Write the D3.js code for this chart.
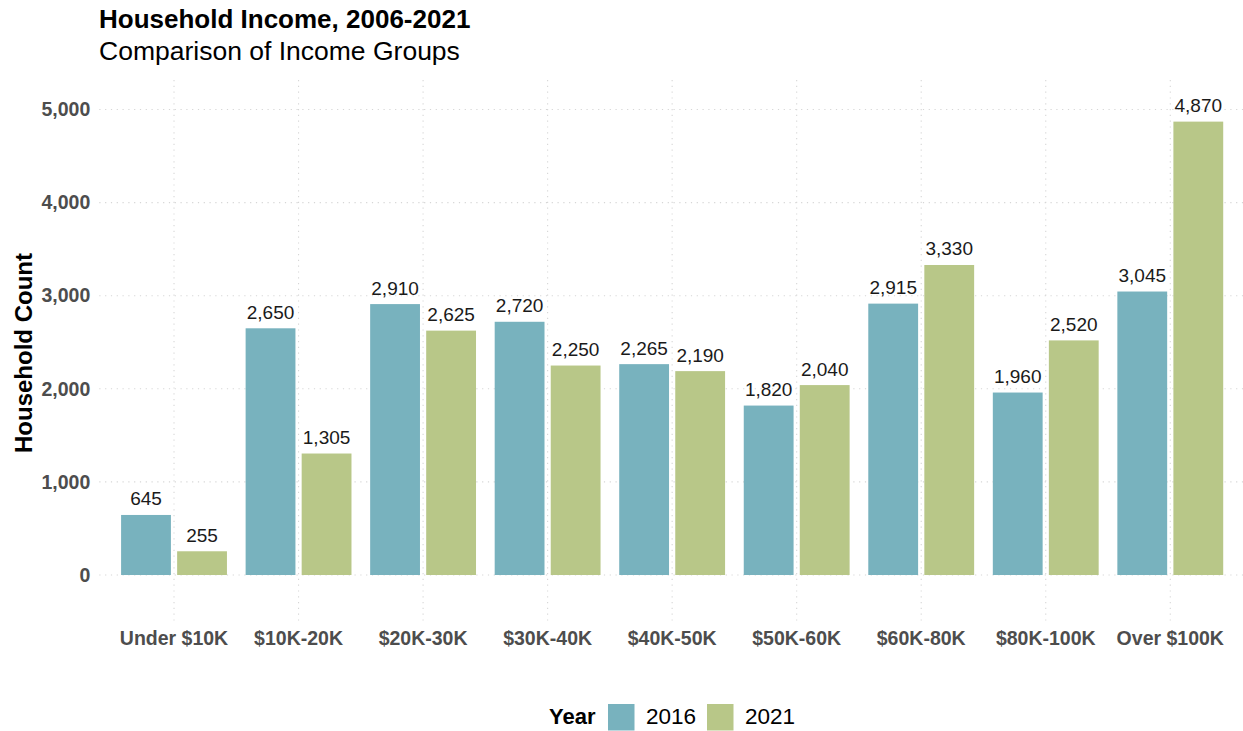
<!DOCTYPE html>
<html>
<head>
<meta charset="utf-8">
<script src="https://cdn.jsdelivr.net/npm/d3@7"></script>
<style>
  html, body { margin: 0; padding: 0; background: #ffffff; }
  svg { display: block; font-family: "Liberation Sans", Arial, Helvetica, sans-serif; }
</style>
</head>
<body>
<svg id="chart" width="1243" height="731"></svg>
<script>
// Household counts by income group for two census years
const categories = ["Under $10K", "$10K-20K", "$20K-30K", "$30K-40K", "$40K-50K",
                    "$50K-60K", "$60K-80K", "$80K-100K", "Over $100K"];
const years = ["2016", "2021"];
const values2016 = [645, 2650, 2910, 2720, 2265, 1820, 2915, 1960, 3045];
const values2021 = [255, 1305, 2625, 2250, 2190, 2040, 3330, 2520, 4870];
const yTicks = [0, 1000, 2000, 3000, 4000, 5000];
const colors = { "2016": "#78b2be", "2021": "#b8c788" };

const rows = categories.map((c, i) => ({
  category: c,
  values: [{ year: "2016", value: values2016[i] }, { year: "2021", value: values2021[i] }]
}));

const svg = d3.select("#chart");
const panel = { left: 99.3, right: 1245, top: 80, bottom: 621 };

const x = d3.scaleBand()
  .domain(categories)
  .range([panel.left, panel.right])
  .paddingInner(0)
  .paddingOuter(0.1);

const step = x.step();
const xInner = d3.scaleBand()
  .domain(years)
  .range([0.05 * step, 0.95 * step])
  .paddingInner(0.111)
  .paddingOuter(0.0555);

const y = d3.scaleLinear()
  .domain([-494, 5317])
  .range([panel.bottom, panel.top]);

const fmt = d3.format(",");

// Grid lines (dotted)
const grid = svg.append("g");
grid.selectAll("line.h").data(yTicks).join("line")
  .attr("x1", panel.left).attr("x2", 1243)
  .attr("y1", d => y(d)).attr("y2", d => y(d))
  .attr("stroke", "#d6d6d6").attr("stroke-width", 1.1)
  .attr("stroke-dasharray", "1.2,4.6");
grid.selectAll("line.v").data(categories).join("line")
  .attr("x1", d => x(d) + step / 2).attr("x2", d => x(d) + step / 2)
  .attr("y1", panel.top).attr("y2", panel.bottom)
  .attr("stroke", "#d6d6d6").attr("stroke-width", 1.1)
  .attr("stroke-dasharray", "1.2,4.6");

// Bars
const groups = svg.append("g").selectAll("g").data(rows).join("g")
  .attr("transform", d => `translate(${x(d.category)},0)`);

groups.selectAll("rect").data(d => d.values).join("rect")
  .attr("x", d => xInner(d.year))
  .attr("width", xInner.bandwidth())
  .attr("y", d => y(d.value))
  .attr("height", d => y(0) - y(d.value))
  .attr("fill", d => colors[d.year]);

groups.selectAll("text").data(d => d.values).join("text")
  .attr("x", d => xInner(d.year) + xInner.bandwidth() / 2)
  .attr("y", d => y(d.value) - 9.5)
  .attr("text-anchor", "middle")
  .attr("font-size", 19)
  .attr("fill", "#1a1a1a")
  .text(d => fmt(d.value));

// Y axis labels
const yAxis = svg.append("g")
  .attr("transform", `translate(${panel.left - 9},0)`)
  .call(d3.axisLeft(y).tickValues(yTicks).tickFormat(fmt).tickSize(0).tickPadding(0));
yAxis.select(".domain").remove();
yAxis.selectAll("text")
  .attr("font-size", 19.5).attr("font-weight", "bold").attr("fill", "#4d4d4d")
  .attr("font-family", "'Liberation Sans', Arial, sans-serif");

// X axis labels
const xAxis = svg.append("g")
  .attr("transform", `translate(0,${panel.bottom})`)
  .call(d3.axisBottom(x).tickSize(0).tickPadding(0));
xAxis.select(".domain").remove();
xAxis.selectAll("text")
  .attr("y", 24).attr("dy", null)
  .attr("font-size", 19.5).attr("font-weight", "bold").attr("fill", "#4d4d4d")
  .attr("font-family", "'Liberation Sans', Arial, sans-serif");

// Axis title
svg.append("text")
  .attr("transform", `translate(32,353) rotate(-90)`)
  .attr("text-anchor", "middle")
  .attr("font-size", 24).attr("font-weight", "bold").attr("fill", "#000")
  .text("Household Count");

// Titles
svg.append("text").attr("x", 99).attr("y", 28)
  .attr("font-size", 26).attr("font-weight", "bold").attr("fill", "#000")
  .text("Household Income, 2006-2021");
svg.append("text").attr("x", 99).attr("y", 60)
  .attr("font-size", 26.5).attr("fill", "#000")
  .text("Comparison of Income Groups");

// Legend
const legend = svg.append("g");
legend.append("text").attr("x", 549).attr("y", 724)
  .attr("font-size", 22).attr("font-weight", "bold").attr("fill", "#000")
  .text("Year");
const keyX = { "2016": 608, "2021": 707 };
years.forEach(yr => {
  legend.append("rect").attr("x", keyX[yr]).attr("y", 704)
    .attr("width", 26.5).attr("height", 26.5).attr("fill", colors[yr]);
  legend.append("text").attr("x", keyX[yr] + 38).attr("y", 724)
    .attr("font-size", 22.5).attr("fill", "#000").text(yr);
});
</script>
</body>
</html>
